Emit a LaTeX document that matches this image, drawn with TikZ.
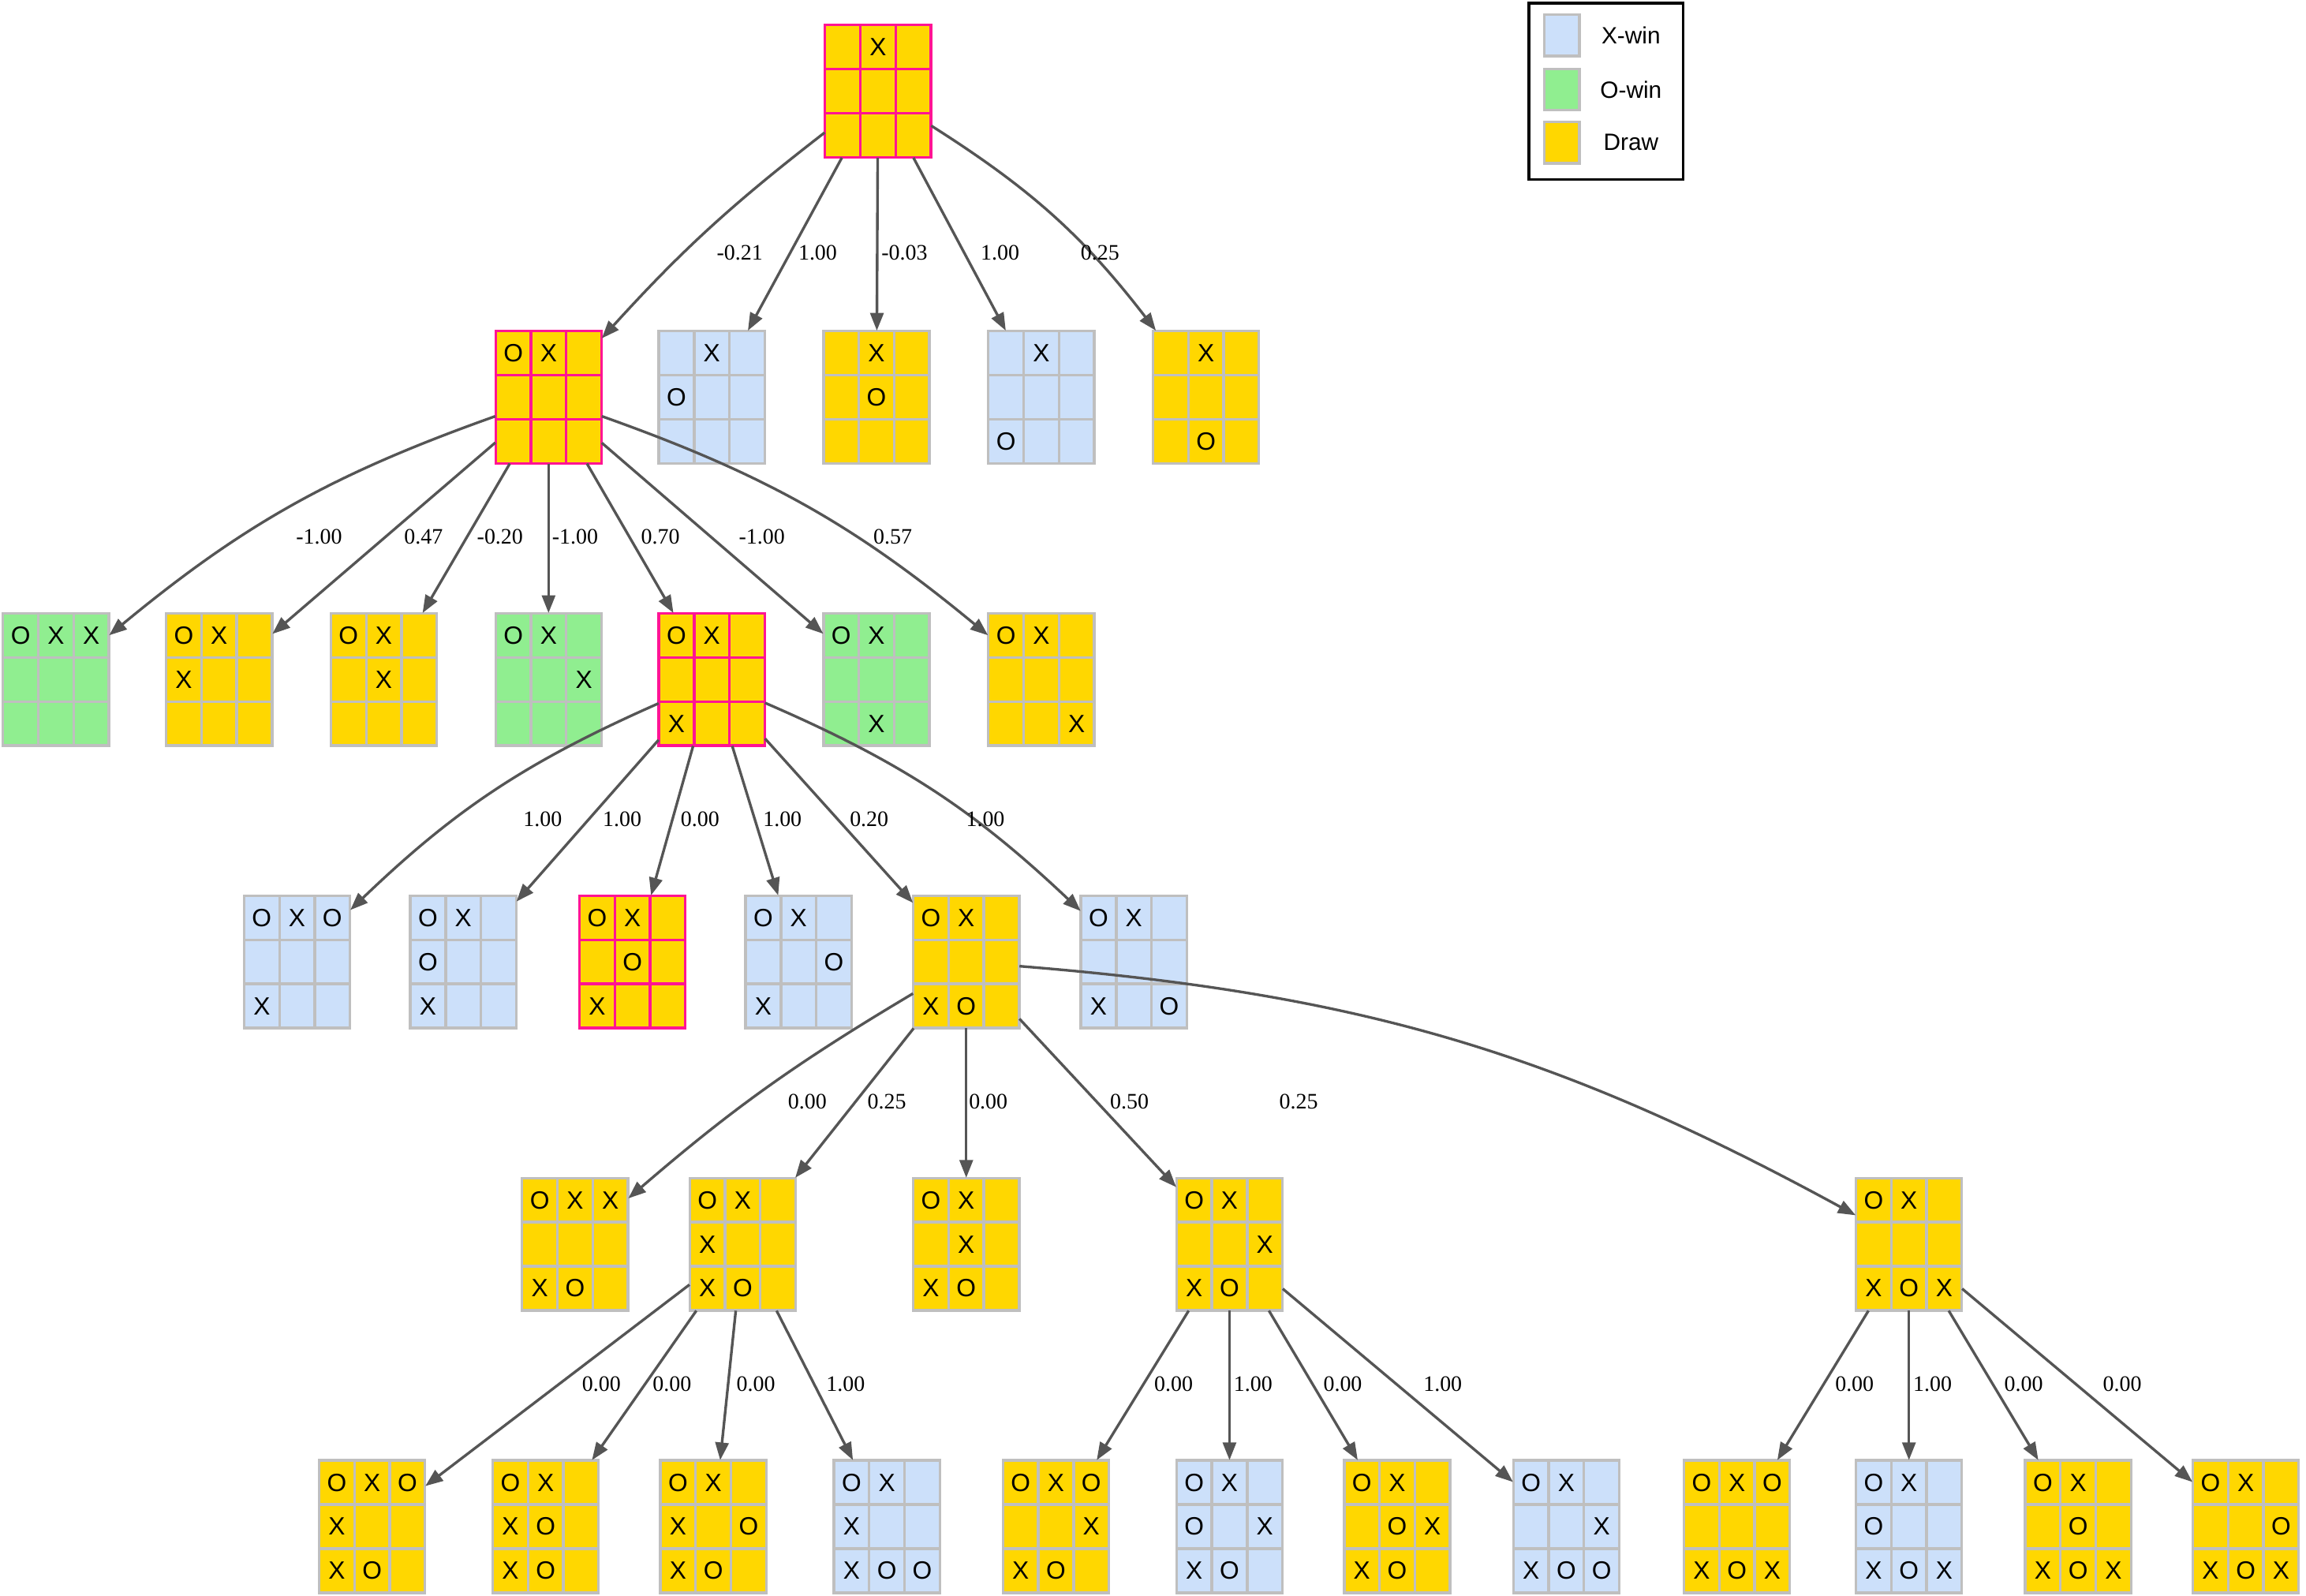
\documentclass[tikz,border=0pt]{standalone}
\usepackage{fontspec}
\setmainfont{Liberation Serif}
\newfontfamily\cellfont{Liberation Sans}
\usetikzlibrary{arrows.meta}
\definecolor{xwin}{HTML}{CCE0FA}
\definecolor{owin}{HTML}{90EE90}
\definecolor{drawc}{HTML}{FFD700}
\definecolor{gridc}{HTML}{BFBFBF}
\definecolor{pathc}{HTML}{FF1493}
\definecolor{edgec}{HTML}{555555}
\tikzset{
  edge/.style={draw=edgec, line width=1.8pt, -{Triangle[length=12pt,width=9pt]}},
  elabel/.style={font=\fontsize{15}{15}\selectfont, inner sep=0pt},
  cell/.style={line width=1.8pt},
}
\begin{document}
\begin{tikzpicture}[x=1pt,y=-1pt]
  \useasboundingbox (0,0) rectangle (1568,1085);
  \newcommand{\board}[6]{
    % args:
    %     name, center x, center y, fill colour, grid colour, cells (row by row)
    \node[minimum width=72pt, minimum height=90pt, inner sep=0pt] (#1) at (#2,#3) {};
    \foreach \v [count=\i from 0] in {#6} {
      \pgfmathtruncatemacro{\cc}{mod(\i,3)}
      \pgfmathtruncatemacro{\rr}{int(\i/3)}
      \draw[cell, fill=#4, draw=#5] (#2-36+24*\cc,#3-45+30*\rr) rectangle ++(24,30);
      \node[font=\cellfont\fontsize{17}{17}\selectfont] at (#2-24+24*\cc,#3-30+30*\rr) {\v};
    }
  }
  \newcommand{\link}[6]{
    % args: from, to, bend, label x, label y, label
    \draw[edge] (#1) to[#3] (#2);
    \node[elabel] (lbl_#2) at (#4,#5) {#6};
  }
  % boards
  \board{root}{597}{62}{drawc}{pathc}{,X,,,,,,,}
  \board{l1a}{373}{270}{drawc}{pathc}{O,X,,,,,,,}
  \board{l1b}{484}{270}{xwin}{gridc}{,X,,O,,,,,}
  \board{l1c}{596}{270}{drawc}{gridc}{,X,,,O,,,,}
  \board{l1d}{708}{270}{xwin}{gridc}{,X,,,,,O,,}
  \board{l1e}{820}{270}{drawc}{gridc}{,X,,,,,,O,}
  \board{l2a}{38}{462}{owin}{gridc}{O,X,X,,,,,,}
  \board{l2b}{149}{462}{drawc}{gridc}{O,X,,X,,,,,}
  \board{l2c}{261}{462}{drawc}{gridc}{O,X,,,X,,,,}
  \board{l2d}{373}{462}{owin}{gridc}{O,X,,,,X,,,}
  \board{l2e}{484}{462}{drawc}{pathc}{O,X,,,,,X,,}
  \board{l2f}{596}{462}{owin}{gridc}{O,X,,,,,,X,}
  \board{l2g}{708}{462}{drawc}{gridc}{O,X,,,,,,,X}
  \board{l3a}{202}{654}{xwin}{gridc}{O,X,O,,,,X,,}
  \board{l3b}{315}{654}{xwin}{gridc}{O,X,,O,,,X,,}
  \board{l3c}{430}{654}{drawc}{pathc}{O,X,,,O,,X,,}
  \board{l3d}{543}{654}{xwin}{gridc}{O,X,,,,O,X,,}
  \board{l3e}{657}{654}{drawc}{gridc}{O,X,,,,,X,O,}
  \board{l3f}{771}{654}{xwin}{gridc}{O,X,,,,,X,,O}
  \board{l4a}{391}{846}{drawc}{gridc}{O,X,X,,,,X,O,}
  \board{l4b}{505}{846}{drawc}{gridc}{O,X,,X,,,X,O,}
  \board{l4c}{657}{846}{drawc}{gridc}{O,X,,,X,,X,O,}
  \board{l4d}{836}{846}{drawc}{gridc}{O,X,,,,X,X,O,}
  \board{l4e}{1298}{846}{drawc}{gridc}{O,X,,,,,X,O,X}
  \board{l5a}{253}{1038}{drawc}{gridc}{O,X,O,X,,,X,O,}
  \board{l5b}{371}{1038}{drawc}{gridc}{O,X,,X,O,,X,O,}
  \board{l5c}{485}{1038}{drawc}{gridc}{O,X,,X,,O,X,O,}
  \board{l5d}{603}{1038}{xwin}{gridc}{O,X,,X,,,X,O,O}
  \board{l5e}{718}{1038}{drawc}{gridc}{O,X,O,,,X,X,O,}
  \board{l5f}{836}{1038}{xwin}{gridc}{O,X,,O,,X,X,O,}
  \board{l5g}{950}{1038}{drawc}{gridc}{O,X,,,O,X,X,O,}
  \board{l5h}{1065}{1038}{xwin}{gridc}{O,X,,,,X,X,O,O}
  \board{l5i}{1181}{1038}{drawc}{gridc}{O,X,O,,,,X,O,X}
  \board{l5j}{1298}{1038}{xwin}{gridc}{O,X,,O,,,X,O,X}
  \board{l5k}{1413}{1038}{drawc}{gridc}{O,X,,,O,,X,O,X}
  \board{l5l}{1527}{1038}{drawc}{gridc}{O,X,,,,O,X,O,X}
  % edges
  \link{root}{l1a}{bend right=5}{503}{172}{-0.21}
  \link{root}{l1b}{}{556}{172}{1.00}
  \link{root}{l1c}{}{615}{172}{-0.03}
  \link{root}{l1d}{}{680}{172}{1.00}
  \link{root}{l1e}{bend left=10}{748}{172}{0.25}
  \link{l1a}{l2a}{bend right=10}{217}{365}{-1.00}
  \link{l1a}{l2b}{}{288}{365}{0.47}
  \link{l1a}{l2c}{}{340}{365}{-0.20}
  \link{l1a}{l2d}{}{391}{365}{-1.00}
  \link{l1a}{l2e}{}{449}{365}{0.70}
  \link{l1a}{l2f}{}{518}{365}{-1.00}
  \link{l1a}{l2g}{bend left=10}{607}{365}{0.57}
  \link{l2e}{l3a}{bend right=10}{369}{557}{1.00}
  \link{l2e}{l3b}{}{423}{557}{1.00}
  \link{l2e}{l3c}{}{476}{557}{0.00}
  \link{l2e}{l3d}{}{532}{557}{1.00}
  \link{l2e}{l3e}{}{591}{557}{0.20}
  \link{l2e}{l3f}{bend left=10}{670}{557}{1.00}
  \link{l3e}{l4a}{bend right=5}{549}{749}{0.00}
  \link{l3e}{l4b}{}{603}{749}{0.25}
  \link{l3e}{l4c}{}{672}{749}{0.00}
  \link{l3e}{l4d}{}{768}{749}{0.50}
  \link{l3e}{l4e}{bend left=12}{883}{749}{0.25}
  \link{l4b}{l5a}{}{409}{941}{0.00}
  \link{l4b}{l5b}{}{457}{941}{0.00}
  \link{l4b}{l5c}{}{514}{941}{0.00}
  \link{l4b}{l5d}{}{575}{941}{1.00}
  \link{l4d}{l5e}{}{798}{941}{0.00}
  \link{l4d}{l5f}{}{852}{941}{1.00}
  \link{l4d}{l5g}{}{913}{941}{0.00}
  \link{l4d}{l5h}{}{981}{941}{1.00}
  \link{l4e}{l5i}{}{1261}{941}{0.00}
  \link{l4e}{l5j}{}{1314}{941}{1.00}
  \link{l4e}{l5k}{}{1376}{941}{0.00}
  \link{l4e}{l5l}{}{1443}{941}{0.00}
  % legend
  \node[draw=black, line width=2pt, minimum width=105pt, minimum height=120pt] (legend) at (1092,62) {};
  \foreach \c/\t/\y in {xwin/X-win/24, owin/O-win/61, drawc/Draw/97} {
    \node[draw=gridc, line width=1.8pt, fill=\c, minimum width=24pt, minimum height=28pt, inner sep=0pt] (sw_\c) at (1062,\y) {};
    \node[font=\cellfont\fontsize{16}{16}\selectfont, anchor=center] (txt_\c) at (1109,\y) {\t};
  }
\end{tikzpicture}
\end{document}
